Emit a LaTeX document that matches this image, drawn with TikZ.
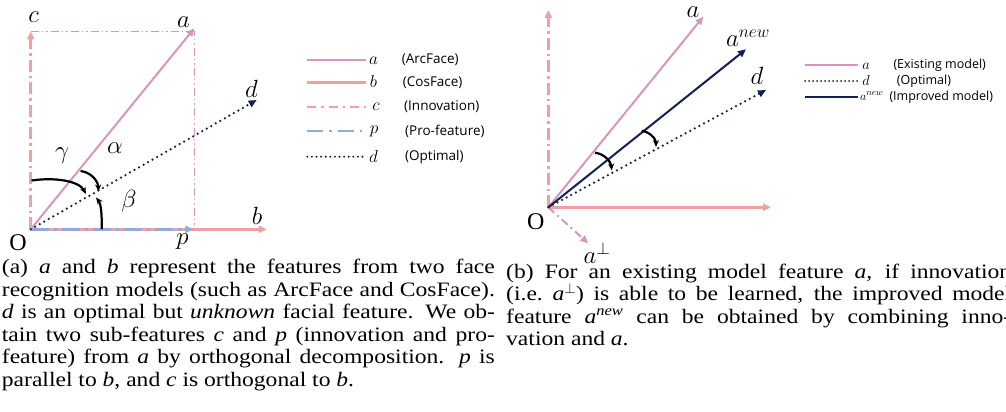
\documentclass[tikz,border=0pt]{standalone}
\usepackage{fontspec}
\setmainfont{Liberation Serif}
\newfontfamily\capfont[FakeStretch=1.15]{Liberation Serif}
\newfontfamily\legfont{Open Sans}
\usetikzlibrary{arrows.meta}
\definecolor{lilac}{RGB}{214,150,190}
\definecolor{salmon}{RGB}{240,160,160}
\definecolor{pblue}{RGB}{143,170,220}
\definecolor{navy}{RGB}{18,32,80}
\newlength\capw
\newcommand\capline[1]{\hbox to \capw{#1}}
\begin{document}
\begin{tikzpicture}[x=1pt,y=-1pt,
  tipA/.style={-{Triangle[length=8pt,width=7pt]}},
  vecA/.style={lilac,line width=2pt,tipA},
  vecB/.style={salmon,line width=2.6pt,tipA},
  vecC/.style={salmon,line width=2.6pt,tipA,dash pattern=on 12pt off 4pt on 2.5pt off 4pt},
  vecP/.style={pblue,line width=2.6pt,tipA,dash pattern=on 18pt off 5pt on 3pt off 5pt},
  vecD/.style={navy,line width=2.5pt,line cap=round,dash pattern=on 0pt off 5.2pt,-{Triangle[length=8pt,width=7pt,line cap=butt]}},
  vecN/.style={navy,line width=2pt,tipA},
  proj/.style={lilac,line width=1.2pt,dash pattern=on 8pt off 3pt on 1.5pt off 3pt on 1.5pt off 3pt},
  perpv/.style={lilac,line width=2pt,tipA,dash pattern=on 8pt off 4pt on 2pt off 4pt},
  angarc/.style={black,line width=2.2pt,-{Stealth[length=7pt,width=6pt]}},
  lbl/.style={inner sep=0pt,font=\fontsize{24}{24}\selectfont},
  leglbl/.style={inner sep=0pt,font=\fontsize{16}{16}\selectfont},
  legtxt/.style={inner sep=0pt,anchor=west,font=\legfont\fontsize{13.5}{14}\selectfont},
  legtxtb/.style={inner sep=0pt,anchor=west,font=\legfont\fontsize{12.5}{13}\selectfont},
  capnode/.style={inner sep=0pt,anchor=base west}
]
\useasboundingbox (0,0) rectangle (1006,412);
% ---------------- panel (a) ----------------
\coordinate (O) at (30.7,229.3);
\coordinate (cT) at (30.7,31.5);
\coordinate (aT) at (194.3,28.3);
\coordinate (dT) at (256.7,100);
\coordinate (bT) at (266.7,229.3);
\coordinate (pT) at (193.3,229.3);
\coordinate (q1) at (194.3,31.5);
\coordinate (q2) at (194.3,229.3);
\draw[proj] (cT) -- (q1) -- (q2);
\draw[vecB] (O) -- (bT);
\draw[vecC] (O) -- (cT);
\draw[vecP] (O) -- (pT);
\draw[vecA] (O) -- (aT);
\draw[vecD] (O) -- (dT);
% angle arcs
\coordinate (g1) at (31.5,180.5);
\coordinate (g2) at (86,194);
\coordinate (al1) at (80.5,171);
\coordinate (al2) at (98.5,191.5);
\coordinate (be1) at (101.7,229);
\coordinate (be2) at (96,197.5);
\draw[angarc] (g1) .. controls (55,177) and (79,181) .. (g2);
\draw[angarc] (al1) .. controls (90,172) and (98,180) .. (al2);
\draw[angarc] (be1) .. controls (102,214) and (101,204) .. (be2);
% labels
\node[lbl] (lc) at (33.5,17) {$c$};
\node[lbl] (la) at (183.5,22) {$a$};
\node[lbl] (ld) at (251.5,89) {$d$};
\node[lbl] (lb) at (257,216) {$b$};
\node[lbl] (lp) at (182.5,242) {$p$};
\node[lbl] (lO) at (18,243) {O};
\node[lbl] (lg) at (62,156) {$\gamma$};
\node[lbl] (lal) at (115,148) {$\alpha$};
\node[lbl] (lbe) at (129,201) {$\beta$};
% legend (a)
\coordinate (la1) at (307.3,60);   \coordinate (la2) at (366,60);
\coordinate (lb1) at (307.3,82.7); \coordinate (lb2) at (366,82.7);
\coordinate (lc1) at (307.3,106.7);\coordinate (lc2) at (366,106.7);
\coordinate (lp1) at (307.3,130.7);\coordinate (lp2) at (366,130.7);
\coordinate (ld1) at (307.3,156.7);\coordinate (ld2) at (366,156.7);
\draw[lilac,line width=2pt] (la1) -- (la2);
\draw[salmon,line width=2.8pt] (lb1) -- (lb2);
\draw[salmon,line width=2.4pt,dash pattern=on 9pt off 5pt on 2.5pt off 5pt] (lc1) -- (lc2);
\draw[pblue,line width=2.4pt,dash pattern=on 16pt off 6pt on 2.5pt off 6pt] (lp1) -- (lp2);
\draw[navy,line width=2.2pt,line cap=round,dash pattern=on 0pt off 4.6pt] (ld1) -- (ld2);
\node[leglbl] (ka) at (373.5,61) {$a$};
\node[leglbl] (kb) at (373.5,82) {$b$};
\node[leglbl] (kc) at (376,107) {$c$};
\node[leglbl] (kp) at (374,131) {$p$};
\node[leglbl] (kd) at (373.5,156) {$d$};
\node[legtxt] (ta) at (401.7,60) {(ArcFace)};
\node[legtxt] (tb) at (402.7,83) {(CosFace)};
\node[legtxt] (tc) at (404,107) {(Innovation)};
\node[legtxt] (tp) at (405,131) {(Pro-feature)};
\node[legtxt] (td) at (405,157) {(Optimal)};
% ---------------- panel (b) ----------------
\coordinate (O2) at (548.3,207.3);
\coordinate (vT) at (548.3,10);
\coordinate (hT) at (771,207.3);
\coordinate (a2T) at (703.3,16.7);
\coordinate (nT) at (746,49.3);
\coordinate (d2T) at (766,90);
\coordinate (perpT) at (588.3,243.3);
\draw[vecC] (O2) -- (vT);
\draw[vecB] (O2) -- (hT);
\draw[perpv] (O2) -- (perpT);
\draw[vecA] (O2) -- (a2T);
\draw[vecN] (O2) -- (nT);
\draw[vecD] (O2) -- (d2T);
\coordinate (r1) at (595,152.7);
\coordinate (r2) at (611.7,170.5);
\coordinate (s1) at (641.7,130.7);
\coordinate (s2) at (656,147);
\draw[angarc] (r1) .. controls (605,154) and (611,162) .. (r2);
\draw[angarc] (s1) .. controls (650,132) and (656,139) .. (s2);
\node[lbl] (la2l) at (693,12.5) {$a$};
\node[lbl] (lnl) at (748,38) {$a^{new}$};
\node[lbl] (ld2l) at (757,76) {$d$};
\node[lbl] (lO2) at (535.7,222) {O};
\node[lbl] (lperp) at (597,253) {$a^{\perp}$};
% legend (b)
\coordinate (m11) at (805,65);   \coordinate (m12) at (858.3,65);
\coordinate (m21) at (805,81);   \coordinate (m22) at (858.3,81);
\coordinate (m31) at (805,97);   \coordinate (m32) at (858.3,97);
\draw[lilac,line width=2pt] (m11) -- (m12);
\draw[navy,line width=2pt,line cap=round,dash pattern=on 0pt off 4pt] (m21) -- (m22);
\draw[navy,line width=2pt] (m31) -- (m32);
\node[leglbl,font=\fontsize{14}{14}\selectfont] (ja) at (866,66) {$a$};
\node[leglbl,font=\fontsize{14}{14}\selectfont] (jd) at (866,80.5) {$d$};
\node[leglbl,anchor=west,font=\fontsize{13}{13}\selectfont] (jn) at (860,96) {$a^{new}$};
\node[legtxtb] (ua) at (893.3,65) {(Existing model)};
\node[legtxtb] (ud) at (896.7,81) {(Optimal)};
\node[legtxtb] (un) at (889.3,97) {(Improved model)};
% ---------------- captions ----------------
\node[capnode] (capa) at (1.7,273.5) {\setlength\capw{493pt}\begin{minipage}[t]{493pt}\capfont\fontsize{20.5}{22.5}\selectfont
\capline{(a) \textit{a} and \textit{b} represent the features from two face}
\capline{recognition models (such as ArcFace and CosFace).}
\capline{\textit{d} is an optimal but \textit{unknown} facial feature. We ob-}
\capline{tain two sub-features \textit{c} and \textit{p} (innovation and pro-}
\capline{feature) from \textit{a} by orthogonal decomposition. \textit{p} is}
\hbox{parallel to \textit{b}, and \textit{c} is orthogonal to \textit{b}.}
\end{minipage}};
\node[capnode] (capb) at (506,278) {\setlength\capw{505pt}\begin{minipage}[t]{505pt}\capfont\fontsize{20.5}{22.6}\selectfont
\capline{(b) For an existing model feature \textit{a}, if innovation}
\capline{(i.e.\ \textit{a}$^{\perp}$) is able to be learned, the improved model}
\capline{feature \textit{a}\textsuperscript{\textit{new}} can be obtained by combining inno-}
\hbox{vation and \textit{a}.}
\end{minipage}};
\end{tikzpicture}
\end{document}
